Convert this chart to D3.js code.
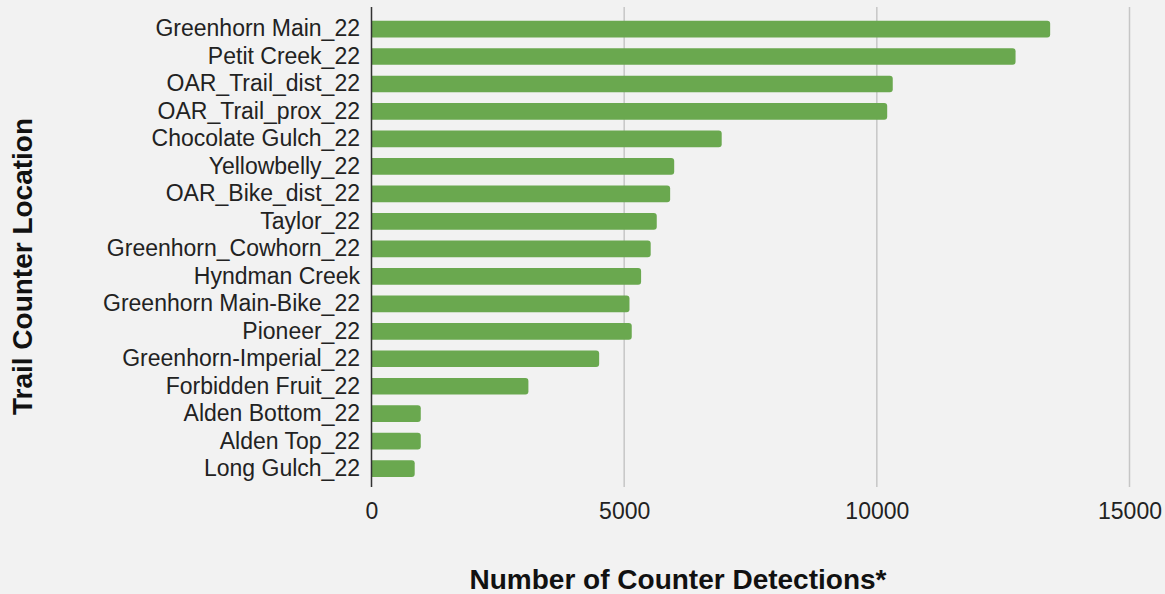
<!DOCTYPE html>
<html>
<head>
<meta charset="utf-8">
<script src="https://cdn.jsdelivr.net/npm/d3@7"></script>
<style>
  html, body { margin: 0; padding: 0; background: #f2f2f2; }
  svg { display: block; font-family: "Liberation Sans", Arial, sans-serif; }
</style>
</head>
<body>
<svg id="chart" width="1165" height="594"></svg>
<script>
const categories = [
  "Greenhorn Main_22", "Petit Creek_22", "OAR_Trail_dist_22", "OAR_Trail_prox_22",
  "Chocolate Gulch_22", "Yellowbelly_22", "OAR_Bike_dist_22", "Taylor_22",
  "Greenhorn_Cowhorn_22", "Hyndman Creek", "Greenhorn Main-Bike_22", "Pioneer_22",
  "Greenhorn-Imperial_22", "Forbidden Fruit_22", "Alden Bottom_22", "Alden Top_22",
  "Long Gulch_22"
];
const detections = [
  13430, 12745, 10315, 10205,
  6930, 5990, 5910, 5645,
  5525, 5335, 5105, 5150,
  4505, 3105, 975, 975,
  855
];
const xTicks = [0, 5000, 10000, 15000];
const xTitle = "Number of Counter Detections*";
const yTitle = "Trail Counter Location";

const svg = d3.select("#chart");
svg.append("rect").attr("width", 1165).attr("height", 594).attr("fill", "#f2f2f2");

const x = d3.scaleLinear().domain([0, 15000]).range([371.5, 1129.5]);
const y = d3.scaleBand().domain(categories).range([15.3, 482.4])
  .paddingInner(0.392).paddingOuter(0.196);

const plotTop = 7, plotBottom = 487;

// gridlines
svg.append("g").selectAll("line").data(xTicks.filter(d => d > 0)).join("line")
  .attr("x1", d => x(d)).attr("x2", d => x(d))
  .attr("y1", plotTop).attr("y2", plotBottom)
  .attr("stroke", "#c6c6c6").attr("stroke-width", 1.5);

// bars with rounded right ends
const r = 3;
svg.append("g").selectAll("path").data(categories).join("path")
  .attr("fill", "#6aa84f")
  .attr("d", (c, i) => {
    const x0 = x(0), x1 = x(detections[i]);
    const y0 = y(c), h = y.bandwidth();
    return `M${x0},${y0} H${x1 - r} Q${x1},${y0} ${x1},${y0 + r} V${y0 + h - r} Q${x1},${y0 + h} ${x1 - r},${y0 + h} H${x0} Z`;
  });

// axis line at zero
svg.append("line")
  .attr("x1", x(0)).attr("x2", x(0))
  .attr("y1", plotTop).attr("y2", plotBottom)
  .attr("stroke", "#333").attr("stroke-width", 1.5);

// x axis tick labels
const xAxis = d3.axisBottom(x).tickValues(xTicks).tickSize(0).tickPadding(0).tickFormat(d3.format("d"));
const gx = svg.append("g").attr("transform", "translate(0,0)").call(xAxis);
gx.select(".domain").remove();
gx.selectAll("text")
  .attr("y", 519).attr("dy", 0)
  .attr("font-size", 23).attr("fill", "#222")
  .attr("font-family", "Liberation Sans, Arial, sans-serif");

// y axis category labels
const yAxis = d3.axisLeft(y).tickSize(0).tickPadding(0);
const gy = svg.append("g").attr("transform", "translate(360,0)").call(yAxis);
gy.select(".domain").remove();
gy.selectAll("text")
  .attr("x", 0).attr("dy", "0.32em")
  .attr("font-size", 23).attr("fill", "#222")
  .attr("font-family", "Liberation Sans, Arial, sans-serif");

// titles
svg.append("text")
  .attr("x", 678).attr("y", 589)
  .attr("text-anchor", "middle")
  .attr("font-size", 28).attr("font-weight", "bold").attr("fill", "#111")
  .text(xTitle);

svg.append("text")
  .attr("transform", "translate(31.5,266.5) rotate(-90)")
  .attr("text-anchor", "middle")
  .attr("font-size", 28).attr("font-weight", "bold").attr("fill", "#111")
  .text(yTitle);
</script>
</body>
</html>
